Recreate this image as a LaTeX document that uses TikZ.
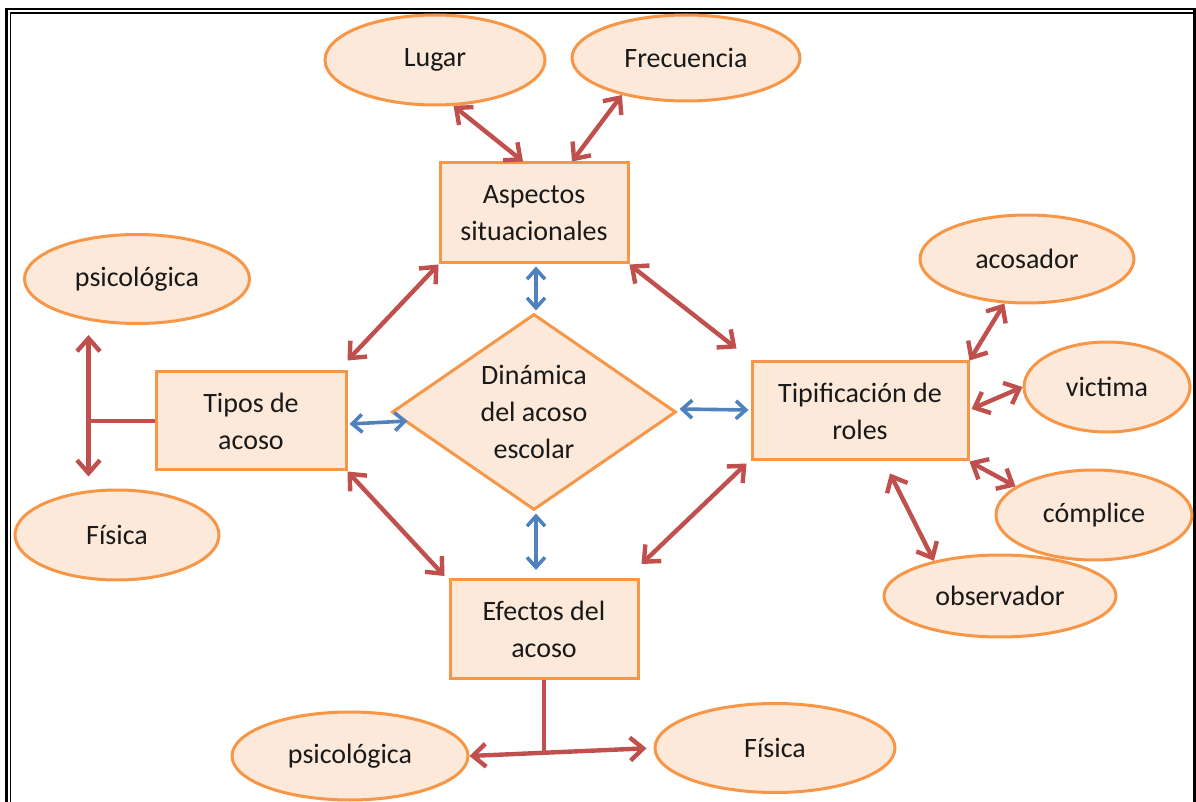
\documentclass[tikz,border=0pt]{standalone}
\usepackage{fontspec}
\setmainfont{Carlito}
\usepackage{xcolor}
\usetikzlibrary{shapes.geometric, arrows.meta, calc}
\definecolor{boxline}{HTML}{F79646}
\definecolor{boxfill}{HTML}{FDE9D9}
\definecolor{linkred}{HTML}{C0504D}
\definecolor{linkblue}{HTML}{4F81BD}

\begin{document}
\begin{tikzpicture}[
    x=0.5pt, y=-0.5pt,
    every node/.style={font=\fontsize{14}{18.5}\selectfont, text=black!90},
    box/.style={rectangle, draw=boxline, fill=boxfill, line width=1.5pt, align=center, inner sep=0pt},
    oval/.style={ellipse, draw=boxline, fill=boxfill, line width=1.5pt, align=center, inner sep=0pt},
    redarrow/.style={draw=linkred, line width=2.2pt, {Straight Barb[length=6.5pt,width=11.5pt]}-{Straight Barb[length=6.5pt,width=11.5pt]}},
    redline/.style={draw=linkred, line width=2.2pt},
    bluearrow/.style={draw=linkblue, line width=1.8pt, {Straight Barb[length=5pt,width=9pt]}-{Straight Barb[length=5pt,width=9pt]}},
    frame/.style={draw=black, line width=1.1pt}
]
\useasboundingbox (0,0) rectangle (1196,802);

% Frame
\draw[frame] (6.5,9) rectangle (1194.5,830);
\draw[frame, line width=0.9pt] (10.5,13) rectangle (1194.5,830);

% Centre
\node[diamond, draw=boxline, fill=boxfill, line width=1.5pt, align=center, inner sep=0pt,
      aspect=1.45, minimum width=142pt, minimum height=98pt] (dyn) at (534,412) {Din\'amica\\del acoso\\escolar};

% Main boxes
\node[box, minimum width=94pt, minimum height=50pt] (asp) at (534,213) {Aspectos\\situacionales};
\node[box, minimum width=95pt, minimum height=49pt] (tipos) at (251,421) {Tipos de\\acoso};
\node[box, minimum width=108pt, minimum height=49pt] (tipif) at (860,411) {Tipificaci\'on de\\roles};
\node[box, minimum width=94pt, minimum height=49.5pt] (efe) at (544,629) {Efectos del\\acoso};

% Outer ovals
\node[oval, minimum width=110pt, minimum height=45pt] (lugar) at (435,60) {Lugar};
\node[oval, minimum width=114pt, minimum height=43pt] (frec) at (686,58) {Frecuencia};
\node[oval, minimum width=112.5pt, minimum height=44.5pt] (psicoA) at (137,279) {psicol\'ogica};
\node[oval, minimum width=102pt, minimum height=45pt] (fisicaA) at (117,535) {F\'isica};
\node[oval, minimum width=107pt, minimum height=44pt] (acosador) at (1027,259) {acosador};
\node[oval, minimum width=83pt, minimum height=45pt] (victima) at (1107,387) {victima};
\node[oval, minimum width=98pt, minimum height=45pt] (complice) at (1094,515) {c\'omplice};
\node[oval, minimum width=116pt, minimum height=41pt] (observ) at (1000,596) {observador};
\node[oval, minimum width=118pt, minimum height=44pt] (psicoB) at (350,756) {psicol\'ogica};
\node[oval, minimum width=120pt, minimum height=44.5pt] (fisicaB) at (775,748) {F\'isica};

% Joints
\coordinate (tjA) at ($(tipos.west)+(-66,0)$);
\coordinate (tjB) at ($(psicoB.east)!0.4!(fisicaB.west)$);

% Red links
\draw[redarrow] (lugar.-68) -- ($(asp.north)+(-11,0)$);
\draw[redarrow] (frec.-150) -- ($(asp.north)+(38,0)$);
\draw[redarrow] (asp.south west) -- ($(tipos.north east)+(0,-10)$);
\draw[redarrow] (asp.south east) -- ($(tipif.north west)+(-14,-12)$);
\draw[redarrow] (tipos.south east) -- ($(efe.north west)+(-4,-2)$);
\draw[redarrow] ($(tipif.south west)+(-4,2)$) -- ($(efe.north east)+(2,-14)$);
\draw[redarrow] (tipif.north east) -- (acosador.-117);
\draw[redarrow] ($(tipif.east)+(2,-2)$) -- (victima.west);
\draw[redarrow] (tipif.south east) -- (complice.160);
\draw[redarrow] ($(tipif.south)+(30,12)$) -- (observ.152);

% Branches
\draw[redline] (tipos.west) -- (tjA);
\draw[redarrow, shorten <=5pt, shorten >=6pt] (tjA |- psicoA.south) -- (tjA |- fisicaA.north);
\draw[redline] (efe.south) -- (efe.south |- tjB);
\draw[redarrow, shorten >=3.5pt] (psicoB.east) -- (fisicaB.west);

% Blue links
\draw[bluearrow] ($(asp.south)+(2,2)$) -- ($(dyn.north)+(2,-2)$);
\draw[bluearrow] ($(dyn.south)+(2,2)$) -- ($(efe.north)+(-8,-8)$);
\draw[bluearrow] ($(tipos.east)+(2,3)$) -- ($(dyn.west)+(17,9)$);
\draw[bluearrow] ($(dyn.east)+(2,-3)$) -- ($(tipif.west)+(-2,-1)$);
\end{tikzpicture}
\end{document}
